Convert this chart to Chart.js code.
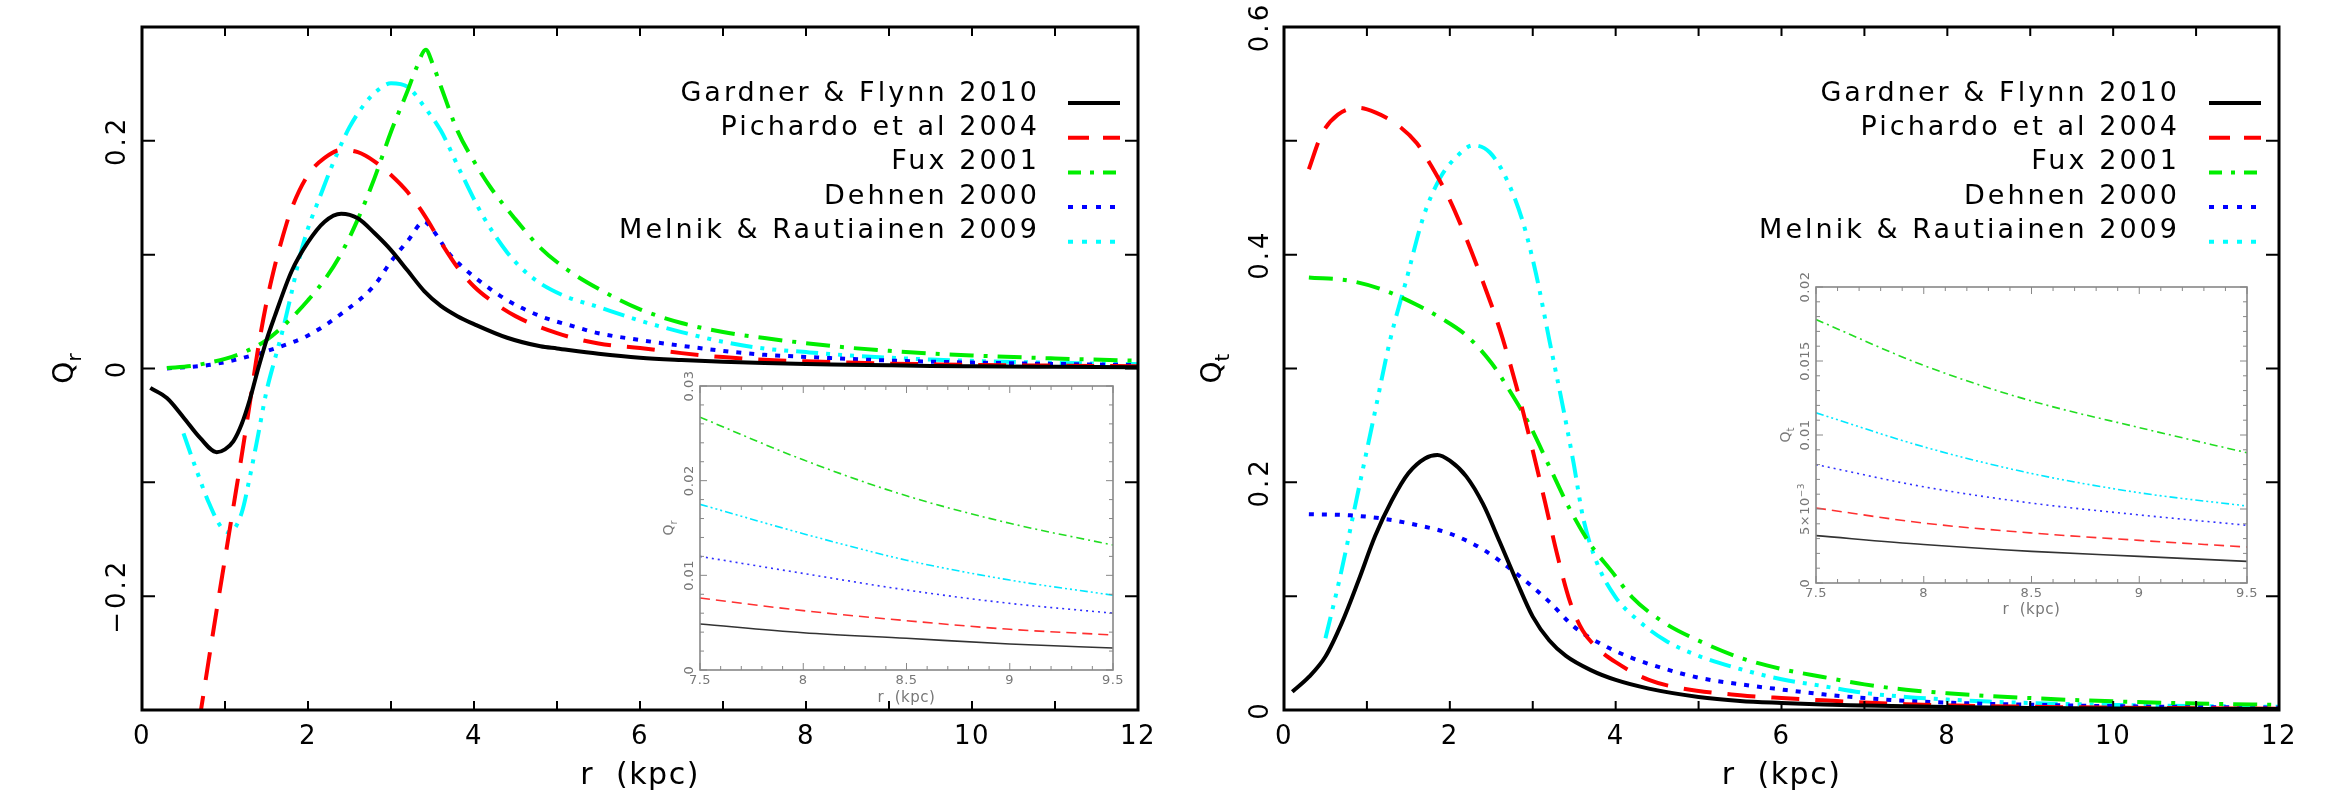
<!DOCTYPE html>
<html><head><meta charset="utf-8">
<script src="https://cdn.jsdelivr.net/npm/chart.js@4.4.1/dist/chart.umd.min.js"></script>
<style>
html,body{margin:0;padding:0;background:#fff;}
#wrap{position:relative;width:2341px;height:801px;overflow:hidden;background:#fff;}
canvas{position:absolute;}
</style></head><body>
<div id="wrap">
<canvas id="cL" width="1170" height="801" style="left:0;top:0;width:1170px;height:801px"></canvas>
<canvas id="cR" width="1171" height="801" style="left:1170px;top:0;width:1171px;height:801px"></canvas>
<canvas id="iL" width="500" height="345" style="left:640px;top:370px;width:500px;height:345px"></canvas>
<canvas id="iR" width="540" height="350" style="left:1750px;top:270px;width:540px;height:350px"></canvas>
</div>
<script>
// ---------- series names ----------
const seriesNames = ['Gardner & Flynn 2010','Pichardo et al 2004','Fux 2001','Dehnen 2000','Melnik & Rautiainen 2009'];

// ---------- left panel: Q_r ----------
const rGF_L = [0.1,0.3,0.5,0.7,0.9,1.0,1.1,1.2,1.3,1.4,1.5,1.6,1.8,2.0,2.2,2.4,2.6,2.8,3.0,3.2,3.4,3.6,3.8,4.0,4.4,4.8,5.0,5.5,6.0,6.5,7.0,7.5,8.0,8.5,9.0,9.5,10,11,12];
const qGF_L = [-0.017,-0.026,-0.043,-0.061,-0.0735,-0.071,-0.064,-0.049,-0.027,0.000,0.025,0.046,0.085,0.111,0.129,0.136,0.132,0.119,0.104,0.086,0.068,0.055,0.046,0.039,0.027,0.0195,0.0176,0.013,0.0095,0.0075,0.006,0.0049,0.0039,0.0034,0.0028,0.0023,0.002,0.0015,0.001];

const rP_L = [0.6,0.7,0.8,0.9,1.0,1.1,1.2,1.3,1.4,1.5,1.6,1.7,1.8,2.0,2.2,2.4,2.6,2.8,3.0,3.2,3.4,3.6,3.8,4.0,4.2,4.5,5.0,5.5,6.0,6.5,7.0,7.5,8.0,8.5,9.0,9.5,10,11,12];
const qP_L = [-0.35,-0.305,-0.258,-0.212,-0.167,-0.122,-0.077,-0.030,0.018,0.058,0.090,0.117,0.140,0.170,0.185,0.192,0.190,0.182,0.170,0.155,0.135,0.111,0.089,0.072,0.060,0.046,0.031,0.022,0.018,0.0135,0.010,0.0076,0.0063,0.0052,0.0043,0.0037,0.0032,0.0025,0.002];

const rF_L = [0.3,0.6,0.8,1.0,1.25,1.5,1.75,2.0,2.2,2.4,2.6,2.8,3.0,3.2,3.3,3.42,3.5,3.6,3.8,4.0,4.2,4.5,4.8,5.1,5.5,6.0,6.5,7.0,7.5,8.0,8.5,9.0,9.5,10,11,12];
const qF_L = [0.0004,0.0023,0.005,0.0085,0.015,0.025,0.0406,0.060,0.078,0.101,0.131,0.167,0.208,0.244,0.263,0.280,0.268,0.248,0.209,0.182,0.159,0.131,0.106,0.088,0.070,0.052,0.040,0.032,0.0267,0.0222,0.0184,0.0155,0.0132,0.0115,0.0088,0.0068];

const rD_L = [0.3,0.8,1.2,1.6,2.0,2.4,2.8,3.0,3.2,3.4,3.5,3.7,3.85,4.1,4.4,4.8,5.2,5.5,6.0,6.5,7.0,7.5,8.0,8.5,9.0,9.5,10,11,12];
const qD_L = [0.0,0.003,0.009,0.0176,0.029,0.048,0.073,0.094,0.112,0.129,0.122,0.101,0.090,0.075,0.060,0.046,0.037,0.031,0.025,0.020,0.0155,0.012,0.0102,0.0085,0.007,0.006,0.0052,0.004,0.003];

const rM_L = [0.5,0.65,0.8,0.95,1.05,1.2,1.3,1.4,1.5,1.6,1.7,1.8,1.9,2.0,2.15,2.3,2.5,2.7,2.85,3.0,3.2,3.4,3.6,3.85,4.1,4.4,4.7,5.05,5.5,6.0,6.5,7.0,7.5,8.0,8.5,9.0,9.5,10,11,12];
const qM_L = [-0.057,-0.088,-0.117,-0.139,-0.144,-0.127,-0.095,-0.058,-0.020,0.008,0.035,0.066,0.098,0.123,0.152,0.180,0.212,0.234,0.245,0.2506,0.2475,0.230,0.209,0.171,0.135,0.102,0.080,0.065,0.054,0.042,0.032,0.0235,0.0175,0.0144,0.0116,0.0095,0.0079,0.0067,0.005,0.0038];

// ---------- right panel: Q_t ----------
const rGF_R = [0.1,0.3,0.5,0.7,0.9,1.1,1.3,1.5,1.7,1.85,2.0,2.2,2.4,2.6,2.8,3.0,3.2,3.4,3.7,4.0,4.4,5.0,5.5,6.0,6.5,7.0,7.5,8.0,8.5,9.0,9.5,10,11,12];
const qGF_R = [0.016,0.029,0.047,0.077,0.114,0.153,0.184,0.208,0.221,0.224,0.219,0.205,0.181,0.148,0.114,0.082,0.061,0.0475,0.035,0.0264,0.0188,0.0115,0.008,0.0062,0.0048,0.004,0.0032,0.0026,0.0021,0.0018,0.0015,0.0013,0.001,0.0008];

const rP_R = [0.3,0.45,0.65,0.9,1.1,1.35,1.6,1.8,2.0,2.2,2.4,2.6,2.8,3.0,3.15,3.3,3.45,3.6,3.8,4.0,4.4,4.8,5.5,6.0,6.5,7.0,7.5,8.0,8.5,9.0,9.5,10,11,12];
const qP_R = [0.475,0.505,0.523,0.529,0.525,0.515,0.498,0.475,0.448,0.414,0.376,0.335,0.285,0.228,0.182,0.135,0.095,0.070,0.053,0.042,0.0264,0.019,0.013,0.0105,0.0085,0.0065,0.0051,0.0041,0.0034,0.0029,0.0024,0.0021,0.0016,0.0012];

const rF_R = [0.3,0.8,1.2,1.6,1.9,2.2,2.5,2.7,2.95,3.2,3.45,3.7,3.95,4.2,4.6,5.0,5.5,6.0,6.5,7.0,7.5,8.0,8.5,9.0,9.5,10,11,12];
const qF_R = [0.380,0.377,0.369,0.356,0.344,0.329,0.305,0.283,0.252,0.214,0.176,0.145,0.122,0.099,0.076,0.061,0.046,0.036,0.029,0.0225,0.0178,0.0147,0.0123,0.0105,0.0088,0.0076,0.0057,0.0044];

const rD_R = [0.3,0.8,1.2,1.6,2.0,2.4,2.8,3.2,3.5,3.85,4.2,4.6,5.0,5.5,6.0,6.5,7.0,7.5,8.0,8.5,9.0,9.5,10,11,12];
const qD_R = [0.172,0.171,0.168,0.1625,0.155,0.141,0.120,0.095,0.073,0.057,0.0456,0.036,0.0284,0.0226,0.018,0.0138,0.0105,0.008,0.0065,0.0054,0.0046,0.0039,0.0034,0.0026,0.002];

const rM_R = [0.5,0.68,0.88,1.08,1.28,1.48,1.68,1.88,2.08,2.28,2.48,2.68,2.88,3.04,3.2,3.37,3.49,3.61,3.77,4.0,4.25,4.6,5.0,5.5,6.0,6.5,7.0,7.5,8.0,8.5,9.0,9.5,10,11,12];
const qM_R = [0.063,0.118,0.187,0.256,0.325,0.379,0.433,0.467,0.486,0.496,0.490,0.467,0.429,0.383,0.325,0.264,0.218,0.168,0.130,0.099,0.080,0.061,0.0475,0.036,0.027,0.021,0.015,0.0115,0.0092,0.0074,0.0061,0.0052,0.0045,0.0035,0.0028];

// ---------- insets (7.5 - 9.5 kpc) ----------
const rInset = [7.5,8.0,8.5,9.0,9.5];
const qGF_iL = [0.00486,0.00394,0.00335,0.00275,0.00232];
const qP_iL  = [0.0076,0.00627,0.00521,0.0043,0.0037];
const qF_iL  = [0.0267,0.0222,0.0184,0.0155,0.0132];
const qD_iL  = [0.0120,0.0102,0.00845,0.00704,0.0060];
const qM_iL  = [0.0175,0.0144,0.0116,0.0095,0.0079];
const qGF_iR = [0.0032,0.0026,0.00214,0.0018,0.00146];
const qP_iR  = [0.00507,0.00405,0.00338,0.00288,0.00243];
const qF_iR  = [0.0178,0.0147,0.0123,0.0105,0.0088];
const qD_iR  = [0.0080,0.0065,0.0054,0.0046,0.0039];
const qM_iR  = [0.0115,0.0092,0.0074,0.0061,0.0052];

// ---------- tick positions / labels ----------
const xTicksMain = [0,1,2,3,4,5,6,7,8,9,10,11,12];
const yTicksL = [-0.3,-0.2,-0.1,0,0.1,0.2,0.3];
const yTicksR = [0,0.1,0.2,0.3,0.4,0.5,0.6];
const yLabValsL = [-0.2,0,0.2];
const yLabTxtL  = ['\u22120.2','0','0.2'];
const yLabValsR = [0,0.2,0.4,0.6];
const yLabTxtR  = ['0','0.2','0.4','0.6'];
const xMajInset = [7.5,8,8.5,9,9.5];
const xMinInset = [7.6,7.7,7.8,7.9,8.1,8.2,8.3,8.4,8.6,8.7,8.8,8.9,9.1,9.2,9.3,9.4];
const yMajInsetL = [0,0.01,0.02,0.03];
const yMinInsetL = [0.002,0.004,0.006,0.008,0.012,0.014,0.016,0.018,0.022,0.024,0.026,0.028];
const yLabTxtInsetL = ['0','0.01','0.02','0.03'];
const yMajInsetR = [0,0.005,0.01,0.015,0.02];
const yMinInsetR = [0.001,0.002,0.003,0.004,0.006,0.007,0.008,0.009,0.011,0.012,0.013,0.014,0.016,0.017,0.018,0.019];
const yLabTxtInsetR = ['0','5\u00d710^\u22123','0.01','0.015','0.02'];

// ---------- styles ----------
const colors = ['#000000','#ff0000','#00ee00','#0000ff','#00ffff'];
const dashMain = [[],[28,16],[24,10,4,10],[5,8],[22,8,4,8,4,8,4,8]];
const dashLegend = [[],[21,14],[13,9,4,9],[5,9],[5,9]];
const dashInset = [[],[10,6],[8,4,2,4],[2,4],[8,3,2,3,2,3,2,3]];
const colorsInset = ['#333333','#ff3030','#22dd22','#3030ff','#00e8ff'];
const FF = "'DejaVu Sans', 'Liberation Sans', sans-serif";
const FW = 'normal';

function rotText(ctx, x, y, parts){
  ctx.save(); ctx.translate(x,y); ctx.rotate(-Math.PI/2);
  let total=0;
  parts.forEach(p=>{ctx.font=p.font; p.w=ctx.measureText(p.t).width; total+=p.w;});
  let cx=-total/2; ctx.textAlign='left'; ctx.textBaseline='middle';
  parts.forEach(p=>{ctx.font=p.font; ctx.fillText(p.t,cx,p.dy||0); cx+=p.w;});
  ctx.restore();
}

const pg = {
  id:'pg',
  beforeDraw(chart, args, o){ chart.ctx.letterSpacing = (o.ls||0)+'px'; },
  afterDraw(chart, args, o){
    const ctx=chart.ctx, a=chart.chartArea, xs=chart.scales.x, ys=chart.scales.y;
    ctx.save();
    ctx.strokeStyle=o.color; ctx.lineCap='butt'; ctx.setLineDash([]);
    ctx.lineWidth=o.tickWidth;
    const tx=(vals,len)=>vals.forEach(v=>{const p=xs.getPixelForValue(v);ctx.beginPath();ctx.moveTo(p,a.bottom);ctx.lineTo(p,a.bottom-len);ctx.moveTo(p,a.top);ctx.lineTo(p,a.top+len);ctx.stroke();});
    const ty=(vals,len)=>vals.forEach(v=>{const p=ys.getPixelForValue(v);ctx.beginPath();ctx.moveTo(a.left,p);ctx.lineTo(a.left+len,p);ctx.moveTo(a.right,p);ctx.lineTo(a.right-len,p);ctx.stroke();});
    tx(o.xMaj,o.xMajLen); if(o.xMin) tx(o.xMin,o.xMinLen);
    ty(o.yMaj,o.yMajLen); if(o.yMin) ty(o.yMin,o.yMinLen);
    ctx.lineWidth=o.frameWidth;
    ctx.strokeRect(a.left,a.top,a.right-a.left,a.bottom-a.top);
    // y tick labels (rotated)
    ctx.fillStyle=o.textColor;
    ctx.letterSpacing=(o.yls||0)+'px';
    const big=`${FW} ${o.yLabSize}px ${FF}`, small=`${FW} ${Math.round(o.yLabSize*0.7)}px ${FF}`;
    o.yLabVals.forEach((v,i)=>{
      const t=o.yLabTxt[i], py=ys.getPixelForValue(v);
      let parts;
      if(t.includes('^')){const s=t.split('^'); parts=[{t:s[0],font:big},{t:s[1],font:small,dy:-o.yLabSize*0.35}];}
      else parts=[{t,font:big}];
      rotText(ctx, a.left-o.yLabOff, py, parts);
    });
    // y title with subscript
    const yt=o.yTitle;
    ctx.letterSpacing='0px';
    rotText(ctx, a.left-yt.off, (a.top+a.bottom)/2+(yt.dyc||0), [
      {t:yt.main,font:`${FW} ${yt.size}px ${FF}`},
      {t:yt.sub,font:`${FW} ${Math.round(yt.size*0.7)}px ${FF}`,dy:yt.subDy}]);
    // legend
    if(o.legend){
      const L=o.legend;
      ctx.font=`${FW} ${L.size}px ${FF}`;
      ctx.letterSpacing='0px';
      const w0=ctx.measureText(seriesNames[4]).width;
      const ls=Math.max(0,(L.refWidth-w0)/seriesNames[4].length);
      ctx.letterSpacing=ls+'px';
      chart.data.datasets.forEach((d,i)=>{
        const yb=L.y0+i*L.dy;
        ctx.fillStyle='#000';
        ctx.textAlign='right'; ctx.textBaseline='alphabetic';
        ctx.fillText(d.label, L.textRight+ls, yb);
        ctx.strokeStyle=d.borderColor; ctx.lineWidth=4; ctx.setLineDash(d.legendDash||[]);
        ctx.beginPath(); ctx.moveTo(L.x0, yb+L.sdy+i*L.sdd); ctx.lineTo(L.x1, yb+L.sdy+i*L.sdd); ctx.stroke();
        ctx.setLineDash([]);
      });
    }
    ctx.letterSpacing='0px';
    ctx.restore();
  }
};

function mkSets(list, cols, dashes, lw){
  return list.map((s,i)=>({label:seriesNames[i], data:s[0].map((x,j)=>({x, y:s[1][j]})),
    borderColor:cols[i], borderWidth:lw, borderDash:dashes[i], legendDash:dashLegend[i],
    pointRadius:0, fill:false, cubicInterpolationMode:'monotone', clip:0, borderCapStyle:'butt', borderJoinStyle:'round'}));
}

function build(id, sets, xr, yr, o){
  return new Chart(document.getElementById(id), {
    type:'line',
    data:{datasets:sets},
    options:{
      responsive:false, animation:false, devicePixelRatio:1,
      layout:{padding:o.padding},
      plugins:{legend:{display:false}, tooltip:{enabled:false}, pg:o.pg},
      scales:{
        x:{type:'linear', min:xr[0], max:xr[1],
           ticks:{stepSize:xr[2], color:o.tickColor, font:{family:FF, size:o.xLabSize, weight:FW}, padding:o.xLabPad, maxRotation:0, autoSkip:false,
                  callback:v=>String(Math.round(v*10)/10)},
           grid:{display:false, drawTicks:false, tickLength:0}, border:{display:false},
           title:{display:true, text:'r  (kpc)', color:o.tickColor, font:{family:FF, size:o.xTitleSize, weight:FW}, padding:{top:0,bottom:o.xTitlePad}},
           afterFit:s=>{s.height=o.xH;}},
        y:{type:'linear', min:yr[0], max:yr[1],
           ticks:{display:false}, grid:{display:false, drawTicks:false}, border:{display:false},
           afterFit:s=>{s.width=o.yW;}}
      }
    },
    plugins:[pg]
  });
}

// left main
build('cL', mkSets([[rGF_L,qGF_L],[rP_L,qP_L],[rF_L,qF_L],[rD_L,qD_L],[rM_L,qM_L]], colors, dashMain, 4),
  [0,12,2], [-0.3,0.3],
  {padding:{top:27,right:32,left:0,bottom:0}, yW:142, xH:91, tickColor:'#000', xLabSize:26, xLabPad:12, xTitleSize:30, xTitlePad:7,
   pg:{ls:1.5, yls:3, color:'#000', textColor:'#000', tickWidth:2, frameWidth:3, xMaj:xTicksMain, xMajLen:9, yMaj:yTicksL, yMajLen:13,
       yLabVals:yLabValsL, yLabTxt:yLabTxtL, yLabSize:26, yLabOff:24,
       yTitle:{main:'Q', sub:'r', size:28, off:76, subDy:10},
       legend:{y0:101, dy:34.2, textRight:1037, x0:1068, x1:1120, size:27, sdy:2, sdd:0.5, refWidth:421}}});

// right main
build('cR', mkSets([[rGF_R,qGF_R],[rP_R,qP_R],[rF_R,qF_R],[rD_R,qD_R],[rM_R,qM_R]], colors, dashMain, 4),
  [0,12,2], [0,0.6],
  {padding:{top:27,right:62,left:0,bottom:0}, yW:114, xH:91, tickColor:'#000', xLabSize:26, xLabPad:12, xTitleSize:30, xTitlePad:7,
   pg:{ls:1.5, yls:3, color:'#000', textColor:'#000', tickWidth:2, frameWidth:3, xMaj:xTicksMain, xMajLen:9, yMaj:yTicksR, yMajLen:13,
       yLabVals:yLabValsR, yLabTxt:yLabTxtR, yLabSize:26, yLabOff:23,
       yTitle:{main:'Q', sub:'t', size:28, off:70, subDy:10},
       legend:{y0:101, dy:34.2, textRight:1007, x0:1039, x1:1091, size:27, sdy:2, sdd:0.5, refWidth:421}}});

// left inset
build('iL', mkSets([[rInset,qGF_iL],[rInset,qP_iL],[rInset,qF_iL],[rInset,qD_iL],[rInset,qM_iL]], colorsInset, dashInset, 1.6),
  [7.5,9.5,0.5], [0,0.03],
  {padding:{top:16,right:27,left:0,bottom:0}, yW:60, xH:45, tickColor:'#777', xLabSize:13, xLabPad:3, xTitleSize:15, xTitlePad:8,
   pg:{ls:0.5, yls:0.5, color:'#888', textColor:'#777', tickWidth:1, frameWidth:1.6, xMaj:xMajInset, xMajLen:7, xMin:xMinInset, xMinLen:4,
       yMaj:yMajInsetL, yMajLen:7, yMin:yMinInsetL, yMinLen:4,
       yLabVals:yMajInsetL, yLabTxt:yLabTxtInsetL, yLabSize:13, yLabOff:10,
       yTitle:{main:'Q', sub:'r', size:14, off:31, subDy:5}}});

// right inset
build('iR', mkSets([[rInset,qGF_iR],[rInset,qP_iR],[rInset,qF_iR],[rInset,qD_iR],[rInset,qM_iR]], colorsInset, dashInset, 1.6),
  [7.5,9.5,0.5], [0,0.02],
  {padding:{top:17,right:43,left:0,bottom:0}, yW:66, xH:37, tickColor:'#777', xLabSize:13, xLabPad:3, xTitleSize:15, xTitlePad:1,
   pg:{ls:0.5, yls:0.5, color:'#888', textColor:'#777', tickWidth:1, frameWidth:1.6, xMaj:xMajInset, xMajLen:7, xMin:xMinInset, xMinLen:4,
       yMaj:yMajInsetR, yMajLen:7, yMin:yMinInsetR, yMinLen:4,
       yLabVals:yMajInsetR, yLabTxt:yLabTxtInsetR, yLabSize:13, yLabOff:10,
       yTitle:{main:'Q', sub:'t', size:14, off:30, subDy:5}}});
</script>
</body></html>
